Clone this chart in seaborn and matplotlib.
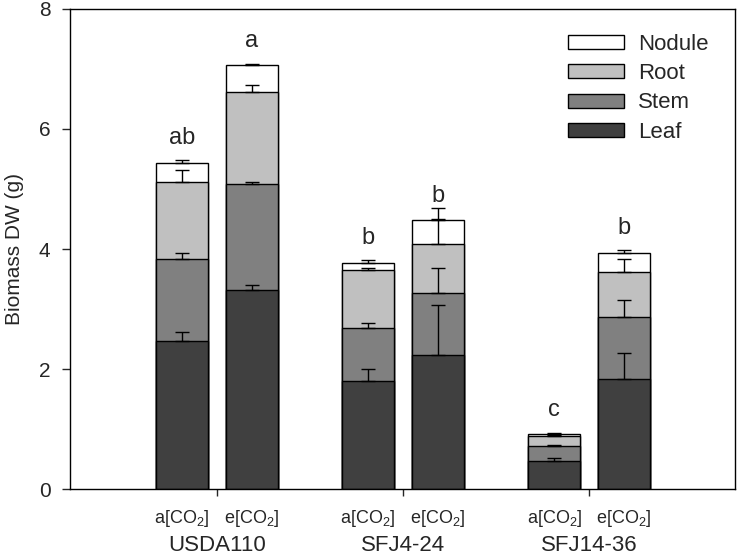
import numpy as np
import pandas as pd
import matplotlib
matplotlib.use('Agg')
import matplotlib.pyplot as plt
import seaborn as sns
from matplotlib.patches import Patch

# Data
strains = ['USDA110', 'SFJ4-24', 'SFJ14-36']
co2_levels = ['a[CO$_2$]', 'e[CO$_2$]']
layers = ['Leaf', 'Stem', 'Root', 'Nodule']

# segment heights, order: USDA110 a/e, SFJ4-24 a/e, SFJ14-36 a/e
leaf = [2.47, 3.32, 1.80, 2.23, 0.46, 1.83]
stem = [1.37, 1.76, 0.89, 1.04, 0.25, 1.04]
root = [1.28, 1.53, 0.96, 0.82, 0.17, 0.75]
nodule = [0.32, 0.45, 0.12, 0.39, 0.04, 0.31]

leaf_err = [0.15, 0.08, 0.20, 0.84, 0.05, 0.44]
stem_err = [0.09, 0.03, 0.08, 0.42, 0.02, 0.28]
root_err = [0.20, 0.13, 0.03, 0.59, 0.02, 0.21]
nodule_err = [0.04, 0.03, 0.04, 0.02, 0.02, 0.05]

letters = ['ab', 'a', 'b', 'b', 'c', 'b']

colors = {'Leaf': '#404040', 'Stem': '#808080', 'Root': '#c0c0c0', 'Nodule': '#ffffff'}

sns.set_style('ticks')
plt.rcParams['font.family'] = ['Liberation Sans', 'DejaVu Sans']
plt.rcParams['mathtext.default'] = 'regular'

segs = np.vstack([leaf, stem, root, nodule])
errs = np.vstack([leaf_err, stem_err, root_err, nodule_err])
tops = np.cumsum(segs, axis=0)

strain_col = np.repeat(strains, 2)
co2_col = np.tile(co2_levels, 3)

fig = plt.figure(figsize=(7.39, 5.55), dpi=100)
ax = fig.add_axes([0.0947, 0.1189, 0.9, 0.8649])

group_width = 0.748
# draw cumulative totals from the top layer down so the stack shows
for i in reversed(range(len(layers))):
    df = pd.DataFrame({'strain': strain_col, 'co2': co2_col, 'value': tops[i]})
    c = colors[layers[i]]
    sns.barplot(data=df, x='strain', y='value', hue='co2', order=strains,
                hue_order=co2_levels, palette=[c, c], width=group_width, gap=0.25,
                edgecolor='black', linewidth=1, saturation=1, errorbar=None,
                legend=False, ax=ax)

offsets = np.array([-1, 1]) * group_width / 4
xpos = (np.arange(len(strains))[:, None] + offsets[None, :]).ravel()

for i in range(len(layers)):
    ax.errorbar(xpos, tops[i], yerr=[np.zeros(6), errs[i]], fmt='none',
                ecolor='black', elinewidth=1, capsize=5, capthick=1, zorder=5)

for x, t, e, lab in zip(xpos, tops[-1], errs[-1], letters):
    ax.annotate(lab, (x, t + e), xytext=(0, 12), textcoords='offset points',
                ha='center', va='baseline', fontsize=17)

ax.set_xlim(-0.79, 2.785)
ax.set_ylim(0, 8)
ax.set_yticks([0, 2, 4, 6, 8])
ax.tick_params(axis='y', labelsize=15, length=6, width=1, pad=8)

ax.set_xticks(range(len(strains)))
ax.set_xticklabels(strains, fontsize=16)
ax.set_xticks(xpos, minor=True)
ax.set_xticklabels(list(co2_col), minor=True, fontsize=13)
ax.tick_params(axis='x', which='major', length=5, width=1, pad=28)
ax.tick_params(axis='x', which='minor', length=0, pad=14)

ax.set_xlabel('')
ax.set_ylabel('Biomass DW (g)', fontsize=15, labelpad=11)

for s in ax.spines.values():
    s.set_visible(True)
    s.set_linewidth(1)
    s.set_color('black')

handles = [Patch(facecolor=colors[l], edgecolor='black', linewidth=1, label=l)
           for l in reversed(layers)]
ax.legend(handles=handles, loc='upper left', bbox_to_anchor=(0.749, 0.948),
          frameon=False, fontsize=16, handlelength=2.5, handleheight=0.6,
          handletextpad=0.65, labelspacing=0.37, borderpad=0, borderaxespad=0)

fig.savefig('out.png', dpi=100)
